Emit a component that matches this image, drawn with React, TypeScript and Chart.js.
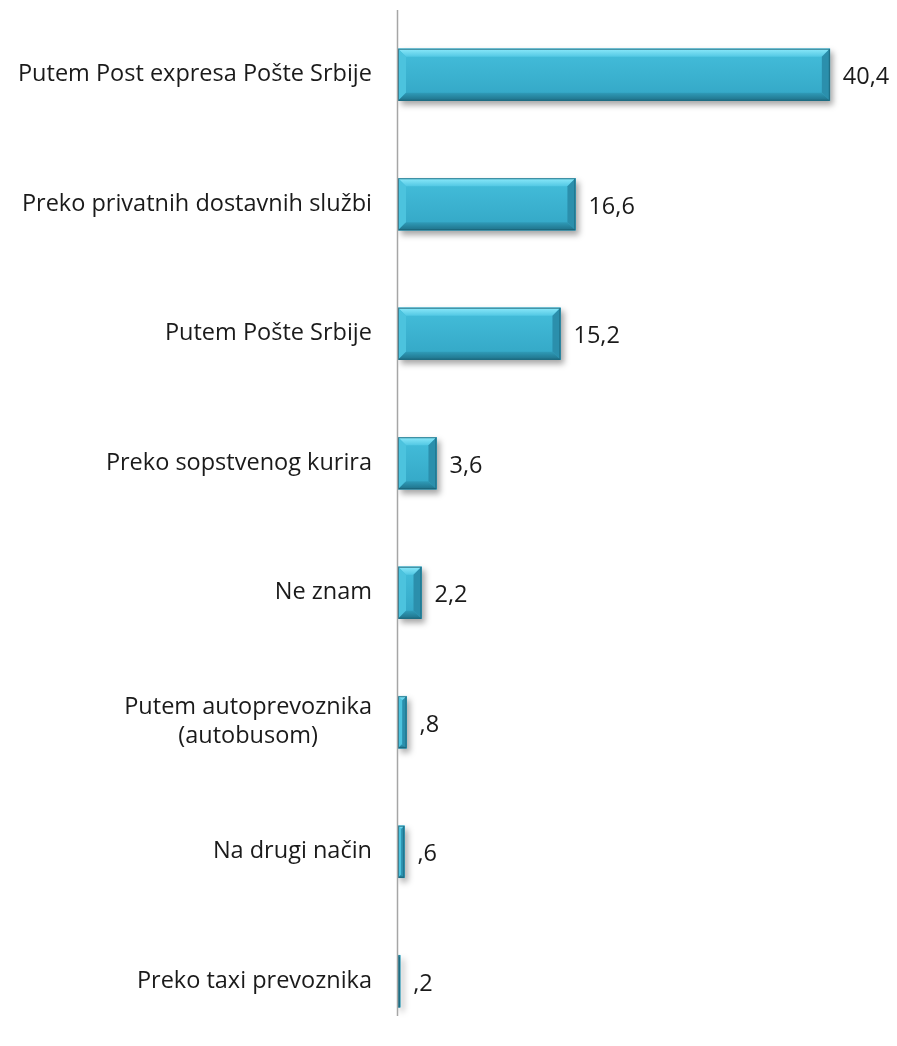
import React, { useEffect, useRef } from "react";
import { Chart, registerables } from "chart.js";

Chart.register(...registerables);

const categories: (string | string[])[] = [
  "Putem Post expresa Pošte Srbije",
  "Preko privatnih dostavnih službi",
  "Putem Pošte Srbije",
  "Preko sopstvenog kurira",
  "Ne znam",
  ["Putem autoprevoznika", "(autobusom)"],
  "Na drugi način",
  "Preko taxi prevoznika",
];
const values = [40.4, 16.6, 15.2, 3.6, 2.2, 0.8, 0.6, 0.2];

const FONT = "'Open Sans', Lato, sans-serif";
const FONT_SIZE = 23.5;

function fmt(v: number): string {
  return v.toFixed(1).replace(".", ",").replace(/^0/, "");
}

const bevelPlugin = {
  id: "bevel",
  beforeDatasetDraw(chart: any) {
    const ctx = chart.ctx;
    ctx.save();
    ctx.shadowColor = "rgba(0,0,0,0.35)";
    ctx.shadowBlur = 6;
    ctx.shadowOffsetX = 3;
    ctx.shadowOffsetY = 4;
  },
  afterDatasetDraw(chart: any) {
    const ctx = chart.ctx;
    ctx.restore();
    const meta = chart.getDatasetMeta(0);
    meta.data.forEach((bar: any) => {
      const l = Math.min(bar.base, bar.x);
      const r = Math.max(bar.base, bar.x);
      const t = bar.y - bar.height / 2;
      const b = bar.y + bar.height / 2;
      const w = r - l;
      const bv = Math.min(8, w / 2);
      ctx.save();
      const g = ctx.createLinearGradient(0, t, 0, b);
      g.addColorStop(0, "#44bedb");
      g.addColorStop(1, "#33a6c5");
      ctx.fillStyle = g;
      ctx.fillRect(l, t, w, b - t);
      const gt = ctx.createLinearGradient(0, t, 0, t + bv);
      gt.addColorStop(0, "#8ce9fa");
      gt.addColorStop(1, "#52c8e4");
      ctx.fillStyle = gt;
      ctx.beginPath();
      ctx.moveTo(l, t);
      ctx.lineTo(r, t);
      ctx.lineTo(r - bv, t + bv);
      ctx.lineTo(l + bv, t + bv);
      ctx.closePath();
      ctx.fill();
      ctx.fillStyle = "#4cc3de";
      ctx.beginPath();
      ctx.moveTo(l, t);
      ctx.lineTo(l + bv, t + bv);
      ctx.lineTo(l + bv, b - bv);
      ctx.lineTo(l, b);
      ctx.closePath();
      ctx.fill();
      ctx.fillStyle = "#2b8fac";
      ctx.beginPath();
      ctx.moveTo(r, t);
      ctx.lineTo(r - bv, t + bv);
      ctx.lineTo(r - bv, b - bv);
      ctx.lineTo(r, b);
      ctx.closePath();
      ctx.fill();
      const gb = ctx.createLinearGradient(0, b - bv, 0, b);
      gb.addColorStop(0, "#2f9bb8");
      gb.addColorStop(1, "#1f7189");
      ctx.fillStyle = gb;
      ctx.beginPath();
      ctx.moveTo(l, b);
      ctx.lineTo(r, b);
      ctx.lineTo(r - bv, b - bv);
      ctx.lineTo(l + bv, b - bv);
      ctx.closePath();
      ctx.fill();
      ctx.strokeStyle = "rgba(25,95,115,0.8)";
      ctx.lineWidth = 1;
      ctx.strokeRect(l + 0.5, t + 0.5, w - 1, b - t - 1);
      ctx.restore();
    });
  },
  afterDraw(chart: any) {
    const ctx = chart.ctx;
    const yScale = chart.scales.y;
    const area = chart.chartArea;
    ctx.save();
    ctx.strokeStyle = "#a6a6a6";
    ctx.lineWidth = 1.5;
    ctx.beginPath();
    ctx.moveTo(area.left - 0.5, 10);
    ctx.lineTo(area.left - 0.5, 1016);
    ctx.stroke();
    ctx.font = `${FONT_SIZE}px ${FONT}`;
    ctx.fillStyle = "#1a1a1a";
    ctx.textBaseline = "middle";
    ctx.textAlign = "center";
    const rightEdge = area.left - 26;
    const lh = 29;
    categories.forEach((lab, i) => {
      const lines = Array.isArray(lab) ? lab : [lab];
      const yc = yScale.getPixelForTick(i);
      const maxW = Math.max(...lines.map((s) => ctx.measureText(s).width));
      const cx = rightEdge - maxW / 2;
      const y0 = yc - ((lines.length - 1) * lh) / 2;
      lines.forEach((s, j) => ctx.fillText(s, cx, y0 + j * lh));
    });
    ctx.textAlign = "left";
    const meta = chart.getDatasetMeta(0);
    meta.data.forEach((bar: any, i: number) => {
      ctx.fillText(fmt(values[i]), bar.x + 13, bar.y + 3);
    });
    ctx.restore();
  },
};

export default function App() {
  const ref = useRef<HTMLCanvasElement>(null);
  useEffect(() => {
    if (!ref.current) return;
    const chart = new Chart(ref.current, {
      type: "bar",
      data: {
        labels: categories as any,
        datasets: [
          {
            data: values,
            backgroundColor: "#3ab2d2",
            borderWidth: 0,
            barThickness: 52,
          },
        ],
      },
      options: {
        indexAxis: "y",
        animation: false,
        responsive: false,
        maintainAspectRatio: false,
        layout: { padding: { top: 10, bottom: 0, left: 0, right: 18 } },
        plugins: { legend: { display: false }, tooltip: { enabled: false } },
        scales: {
          x: { display: false, min: 0, max: 45 },
          y: {
            grid: { display: false },
            border: { display: false },
            ticks: { display: false },
            afterFit: (scale: any) => {
              scale.width = 398;
            },
          },
        },
      },
      plugins: [bevelPlugin],
    });
    return () => chart.destroy();
  }, []);
  return (
    <div style={{ position: "absolute", left: 0, top: 0, width: 897, height: 1046, background: "#fff" }}>
      <canvas ref={ref} width={897} height={1046} />
    </div>
  );
}
